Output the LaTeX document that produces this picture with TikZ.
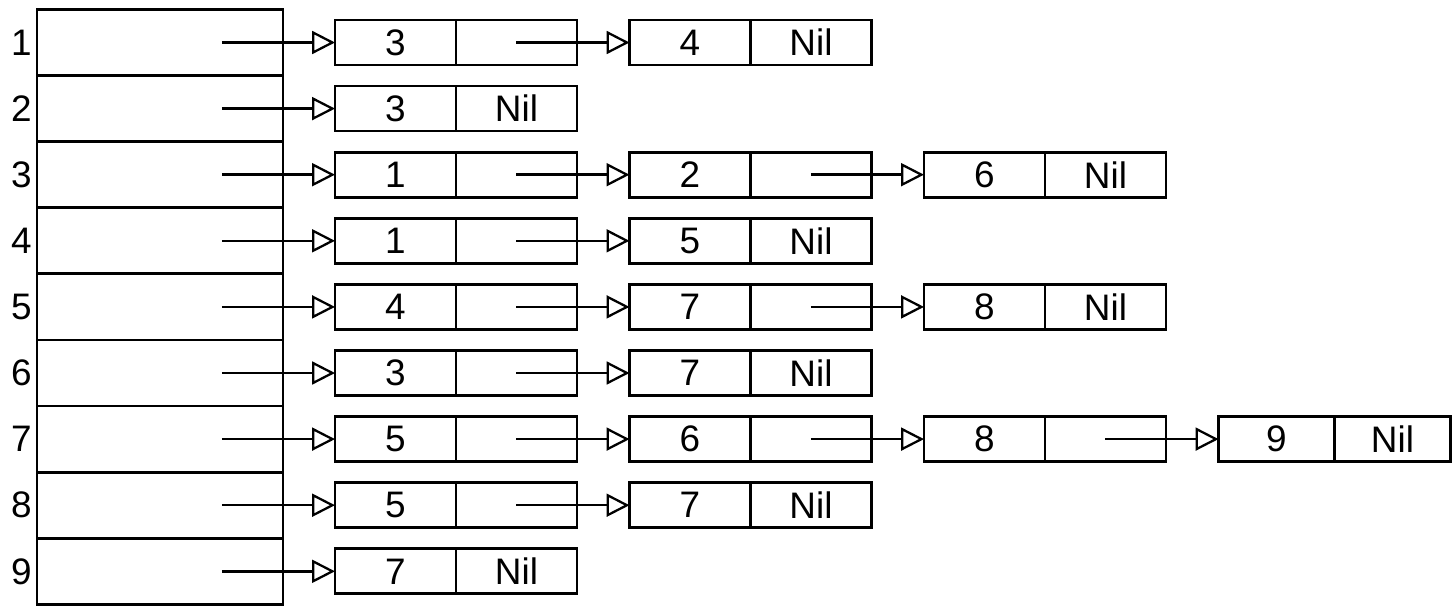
\documentclass[tikz,border=0pt]{standalone}
\usepackage{fontspec}
\setmainfont{Liberation Sans}
\usepackage{tikz}
\usetikzlibrary{arrows.meta,positioning}
\tikzset{
  casilla/.style={draw,line width=1.6pt,minimum width=4.92cm,minimum height=1.322cm,inner sep=0pt,outer sep=0pt},
  celda/.style={draw,line width=1.5pt,minimum height=0.9cm,inner sep=0pt,outer sep=0pt,font=\fontsize{21}{23}\selectfont},
  indice/.style={anchor=east,inner sep=0pt,font=\fontsize{21}{23}\selectfont},
  flecha/.style={-{Triangle[open,length=13pt,width=13pt,line width=1.3pt]},line width=1.4pt}
}

\begin{document}
\begin{tikzpicture}[x=0.02cm,y=-0.02cm]
\useasboundingbox (0,0) rectangle (1454,606);
\foreach \k/\lista in {1/{3/,4/Nil},2/{3/Nil},3/{1/,2/,6/Nil},4/{1/,5/Nil},5/{4/,7/,8/Nil},
                       6/{3/,7/Nil},7/{5/,6/,8/,9/Nil},8/{5/,7/Nil},9/{7/Nil}}{
  \pgfmathsetmacro\yk{42.5+66.1*(\k-1)}
  \node[casilla] (a\k) at (160,\yk) {};
  \node[indice] (i\k) at ([xshift=-0.1cm]a\k.west) {\k};
  \coordinate (s\k-0) at ([xshift=-1.22cm]a\k.east);
  \foreach \v/\sig [count=\j] in \lista{
    \pgfmathtruncatemacro\i{\j-1}
    \pgfmathsetmacro\xj{335+294.5*(\j-1)}
    \pgfmathsetmacro\ancho{\j==4 ? 2.32 : 2.42}
    \node[celda,minimum width=\ancho cm,anchor=west] (v\k-\j) at (\xj,\yk) {\v};
    \node[celda,minimum width=\ancho cm,right=0pt of v\k-\j] (p\k-\j) {\sig};
    \coordinate (s\k-\j) at (p\k-\j.center);
    \draw[flecha] (s\k-\i) -- (v\k-\j.west);
  }
}
\end{tikzpicture}
\end{document}
